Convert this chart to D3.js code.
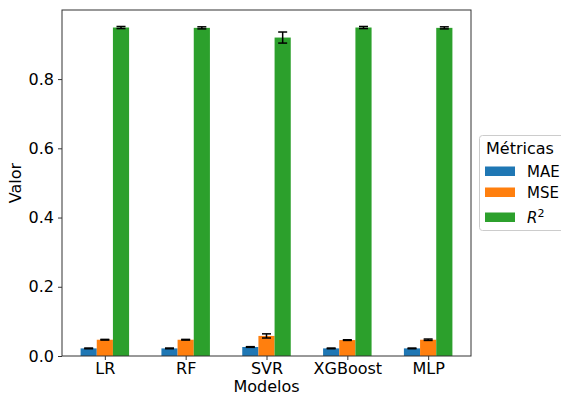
<!DOCTYPE html>
<html>
<head>
<meta charset="utf-8">
<script src="https://cdn.jsdelivr.net/npm/d3@7"></script>
<style>
  html, body { margin: 0; padding: 0; background: #fff; }
  svg { display: block; font-family: "DejaVu Sans", sans-serif; }
</style>
</head>
<body>
<svg id="chart" width="561" height="396"></svg>
<script>
// Model comparison: mean metric values with standard-deviation error bars
const models = ["LR", "RF", "SVR", "XGBoost", "MLP"];
const metrics = ["MAE", "MSE", "R2"];
const maeValues = [0.022, 0.022, 0.026, 0.022, 0.022];
const mseValues = [0.047, 0.047, 0.058, 0.046, 0.047];
const r2Values  = [0.949, 0.948, 0.920, 0.949, 0.948];
const maeErrors = [0.001, 0.001, 0.001, 0.001, 0.001];
const mseErrors = [0.001, 0.001, 0.006, 0.001, 0.002];
const r2Errors  = [0.003, 0.003, 0.016, 0.003, 0.003];
const yTicks = [0.0, 0.2, 0.4, 0.6, 0.8];
const colors = ["#1f77b4", "#ff7f0e", "#2ca02c"];

const seriesValues = [maeValues, mseValues, r2Values];
const seriesErrors = [maeErrors, mseErrors, r2Errors];

const svg = d3.select("#chart");
const plot = { left: 62, right: 471, top: 10, bottom: 356 };
const barW = 0.2;

// matplotlib-style limits: 5% margin on x, top margin on y
const xMin = -barW * 1.5, xMax = models.length - 1 + barW * 1.5;
const xPad = (xMax - xMin) * 0.05;
const x = d3.scaleLinear().domain([xMin - xPad, xMax + xPad]).range([plot.left, plot.right]);

const tops = [];
seriesValues.forEach((vals, s) => vals.forEach((v, i) => tops.push(v + seriesErrors[s][i])));
const yMax = d3.max(tops) * 1.05;
const y = d3.scaleLinear().domain([0, yMax]).range([plot.bottom, plot.top]);

// bars
const bars = [];
seriesValues.forEach((vals, s) => {
  vals.forEach((v, i) => bars.push({ s, i, v, e: seriesErrors[s][i], cx: i + (s - 1) * barW }));
});

svg.append("g").selectAll("rect").data(bars).join("rect")
  .attr("x", d => x(d.cx - barW / 2))
  .attr("width", d => x(d.cx + barW / 2) - x(d.cx - barW / 2))
  .attr("y", d => y(d.v))
  .attr("height", d => y(0) - y(d.v))
  .attr("fill", d => colors[d.s]);

// error bars
const eg = svg.append("g").attr("stroke", "#000").attr("stroke-width", 1.5);
bars.forEach(d => {
  const cx = x(d.cx);
  eg.append("line").attr("x1", cx).attr("x2", cx).attr("y1", y(d.v - d.e)).attr("y2", y(d.v + d.e));
  [d.v - d.e, d.v + d.e].forEach(t => {
    eg.append("line").attr("x1", cx - 4.5).attr("x2", cx + 4.5).attr("y1", y(t)).attr("y2", y(t));
  });
});

// axes frame
svg.append("rect")
  .attr("x", plot.left).attr("y", plot.top)
  .attr("width", plot.right - plot.left).attr("height", plot.bottom - plot.top)
  .attr("fill", "none").attr("stroke", "#333").attr("stroke-width", 1);

// y axis
const yAxis = svg.append("g").attr("transform", `translate(${plot.left},0)`)
  .call(d3.axisLeft(y).tickValues(yTicks).tickFormat(d3.format(".1f")).tickSize(4).tickPadding(4));
yAxis.select(".domain").remove();
yAxis.selectAll(".tick line").attr("stroke", "#333");
yAxis.selectAll(".tick text").attr("font-size", 16).attr("fill", "#000")
  .attr("font-family", "DejaVu Sans");

// x axis
const xAxis = svg.append("g").attr("transform", `translate(0,${plot.bottom})`)
  .call(d3.axisBottom(x).tickValues(d3.range(models.length)).tickFormat(i => models[i]).tickSize(4).tickPadding(3));
xAxis.select(".domain").remove();
xAxis.selectAll(".tick line").attr("stroke", "#333");
xAxis.selectAll(".tick text").attr("font-size", 16).attr("fill", "#000")
  .attr("font-family", "DejaVu Sans");

// axis titles
svg.append("text").attr("x", (plot.left + plot.right) / 2).attr("y", 392)
  .attr("text-anchor", "middle").attr("font-size", 16).text("Modelos");
svg.append("text")
  .attr("transform", `translate(21,${(plot.top + plot.bottom) / 2}) rotate(-90)`)
  .attr("text-anchor", "middle").attr("font-size", 16).text("Valor");

// legend
const lg = svg.append("g");
lg.append("rect").attr("x", 479.5).attr("y", 135.5).attr("width", 100).attr("height", 95)
  .attr("rx", 3).attr("fill", "#fff").attr("fill-opacity", 0.8)
  .attr("stroke", "#ccc").attr("stroke-width", 1);
lg.append("text").attr("x", 486).attr("y", 154).attr("font-size", 16).text("Métricas");
const rowY = [171, 192, 217];
metrics.forEach((m, k) => {
  lg.append("rect").attr("x", 485).attr("y", rowY[k] - 4.5).attr("width", 30).attr("height", 9.5)
    .attr("fill", colors[k]);
  const t = lg.append("text").attr("x", 527).attr("y", rowY[k] + 5.5).attr("font-size", 15);
  if (m === "R2") {
    t.append("tspan").attr("font-style", "italic").text("R");
    t.append("tspan").attr("font-size", 11).attr("dy", -6).text("2");
  } else {
    t.text(m);
  }
});
</script>
</body>
</html>
